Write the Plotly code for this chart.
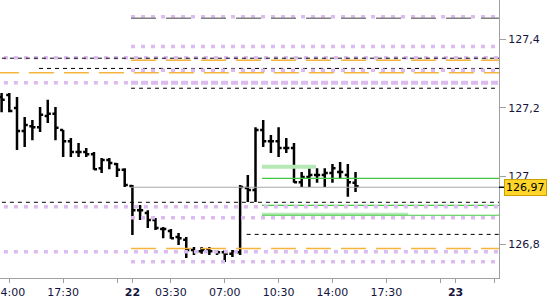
import plotly.graph_objects as go

# ---------------- data ----------------
# bar index (30-min bars); tick labels placed at bar indices
bar_idx = list(range(-1, 46))
bar_open = [127.231, 127.237, 127.199, 127.132, 127.146, 127.143, 127.176, 127.182, 127.135, 127.102,
            127.070, 127.070, 127.064, 127.023, 127.047, 127.035, 127.018, 126.971, 126.900, 126.892,
            126.871, 126.845, 126.839, 126.821, 126.813, 126.783, 126.780, 126.783, 126.780, 126.777,
            126.772, 126.777, 126.965, 126.959, 127.135, 127.102, 127.102, 127.082, 127.082, 126.982,
            126.997, 127.003, 127.003, 127.009, 127.012, 127.003, 126.980]
bar_high = [127.243, 127.243, 127.231, 127.173, 127.164, 127.202, 127.223, 127.202, 127.135, 127.111,
            127.097, 127.082, 127.070, 127.053, 127.053, 127.038, 127.023, 126.974, 126.915, 126.900,
            126.877, 126.851, 126.845, 126.833, 126.821, 126.792, 126.792, 126.792, 126.783, 126.783,
            126.783, 126.974, 127.003, 127.143, 127.164, 127.120, 127.143, 127.111, 127.097, 127.012,
            127.023, 127.023, 127.023, 127.035, 127.041, 127.035, 127.012]
bar_low = [127.187, 127.187, 127.076, 127.085, 127.105, 127.129, 127.155, 127.105, 127.056, 127.056,
           127.056, 127.056, 127.018, 127.009, 127.020, 126.997, 126.968, 126.827, 126.871, 126.848,
           126.842, 126.818, 126.816, 126.798, 126.760, 126.769, 126.772, 126.769, 126.769, 126.748,
           126.763, 126.769, 126.924, 126.924, 127.085, 127.067, 127.056, 127.067, 126.980, 126.968,
           126.968, 126.980, 126.968, 126.980, 126.991, 126.939, 126.953]
bar_close = [127.223, 127.190, 127.132, 127.149, 127.143, 127.179, 127.182, 127.141, 127.102, 127.070,
             127.070, 127.064, 127.020, 127.047, 127.038, 127.018, 126.974, 126.900, 126.900, 126.871,
             126.848, 126.845, 126.818, 126.818, 126.783, 126.780, 126.783, 126.780, 126.777, 126.772,
             126.780, 126.968, 126.959, 127.135, 127.102, 127.102, 127.082, 127.082, 126.982, 126.997,
             127.003, 127.003, 127.009, 127.023, 127.012, 126.982, 126.970]

x_tick_idx = [0, 7, 14, 16, 21, 28, 35, 42, 49, 56, 58, 63]
x_tick_text = ["14:00", "17:30", "", "<b>22</b>", "03:30", "07:00", "10:30", "14:00", "17:30", "", "<b>23</b>", ""]

y_tick_vals = [126.8, 127.0, 127.2, 127.4]
y_tick_text = ["126,8", "127", "127,2", "127,4"]

current_price = 126.967
current_label = "126,97"

# horizontal levels: kind, price, start bar, end bar
level_kind = ["lav_dot", "gray_long", "lav_dot", "lav_dot", "black_dash", "orange_long", "black_dash",
              "lav_dot", "orange_long", "lav_dot", "lav_dash", "black_dash", "lightgreen", "green",
              "gray_solid", "black_dash", "green", "lav_dot", "lightgreen2", "green", "lav_dot",
              "black_dash", "orange_long", "lav_dot", "lav_dot"]
level_price = [127.466, 127.462, 127.379, 127.346, 127.345, 127.339, 127.315,
               127.310, 127.302, 127.273, 127.273, 127.257, 127.027, 126.993,
               126.967, 126.923, 126.914, 126.910, 126.889, 126.885, 126.878,
               126.829, 126.788, 126.778, 126.749]
level_start = [15.82, 15.82, 15.82, -2, -2, 15.82, 3.86,
               15.82, -2, -2, 15.82, 15.82, 32.84, 32.84,
               15.82, -2, 32.84, -2, 32.84, 32.84, 15.82,
               30.85, 15.82, -2, 15.82]
level_end = [65, 65, 65, 65, 65, 65, 65,
             65, 65, 15.82, 65, 65, 39.86, 65,
             65, 65, 65, 65, 51.82, 65, 65,
             65, 65, 65, 65]

# ---------------- styles ----------------
STYLES = {
    "lav_dot": dict(color="#dcbcf0", width=3.5, dash="4px,6px"),
    "lav_dash": dict(color="#dcbcf0", width=4, dash="7px,3px"),
    "gray_long": dict(color="#808080", width=1.5, dash="25px,10px"),
    "orange_long": dict(color="#f5b53c", width=1.5, dash="25px,10px"),
    "black_dash": dict(color="#000000", width=1, dash="4px,4px"),
    "green": dict(color="#44c844", width=1.2),
    "lightgreen": dict(color="#b6e8b6", width=4),
    "lightgreen2": dict(color="#b6e8b6", width=2.5),
    "gray_solid": dict(color="#a8a8a8", width=1.2),
}

fig = go.Figure()
for k, p, s, e in zip(level_kind, level_price, level_start, level_end):
    fig.add_trace(go.Scatter(x=[s, e], y=[p, p], mode="lines", line=STYLES[k],
                             hoverinfo="skip", showlegend=False))

fig.add_trace(go.Ohlc(
    x=bar_idx, open=bar_open, high=bar_high, low=bar_low, close=bar_close,
    increasing=dict(line=dict(color="#000000", width=2.5)),
    decreasing=dict(line=dict(color="#000000", width=2.5)),
    tickwidth=0.4, showlegend=False, hoverinfo="skip"))

axis_col = "#a0a0a0"
font = dict(family="DejaVu Sans", size=11, color="#14143c")

fig.update_layout(
    width=550, height=300,
    margin=dict(l=0, r=51, t=0, b=22, autoexpand=False),
    paper_bgcolor="white", plot_bgcolor="white",
    showlegend=False,
    xaxis=dict(range=[-1.209, 63.647], rangeslider=dict(visible=False), automargin=False,
               showgrid=False, zeroline=False, showline=True, linecolor=axis_col, linewidth=1,
               ticks="outside", ticklen=4, tickcolor=axis_col,
               tickmode="array", tickvals=x_tick_idx, ticktext=x_tick_text,
               tickfont=font, ticklabeloverflow="allow"),
    yaxis=dict(range=[126.7013, 127.5154], side="right", automargin=False,
               showgrid=False, zeroline=False, showline=True, linecolor=axis_col, linewidth=1,
               ticks="outside", ticklen=6, tickcolor=axis_col,
               tickmode="array", tickvals=y_tick_vals, ticktext=y_tick_text,
               tickfont=font),
)

fig.add_shape(type="line", xref="paper", yref="y", x0=1.0, x1=1.012,
              y0=current_price, y1=current_price, line=dict(color="black", width=1.5))
fig.add_annotation(x=1.0, xref="paper", xanchor="left", xshift=5,
                   y=current_price, yref="y", yanchor="middle",
                   text=current_label, showarrow=False,
                   bgcolor="#ffd52a", bordercolor="#c8a000", borderwidth=1, borderpad=1,
                   font=dict(family="DejaVu Sans", size=11, color="#000000"))

fig.write_html("out.html")
